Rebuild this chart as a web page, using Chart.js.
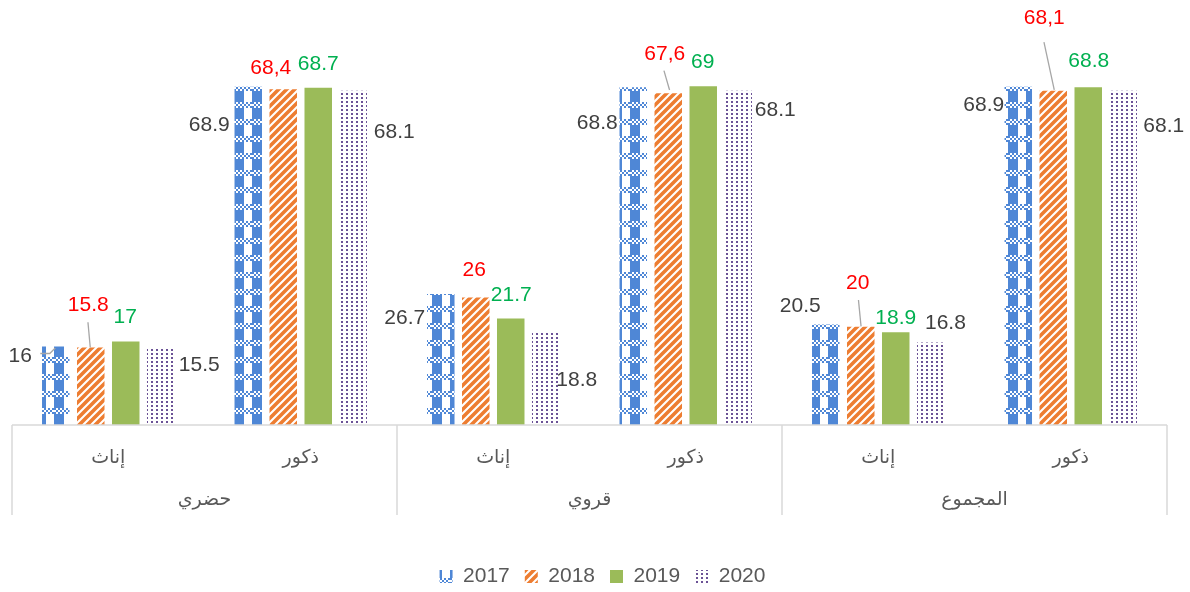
<!DOCTYPE html>
<html>
<head>
<meta charset="UTF-8">
<title>نسبة النشاط حسب الجنس ووسط الإقامة</title>
<style>
  html, body { margin: 0; padding: 0; background: #fff; }
  #wrap { position: relative; width: 1190px; height: 592px; }
</style>
</head>
<body>
<div id="wrap"><canvas id="chart"></canvas></div>

<script src="https://cdn.jsdelivr.net/npm/chart.js@4.4.1/dist/chart.umd.min.js"></script>

<script>
  // data
  var categories = ['إناث', 'ذكور', 'إناث', 'ذكور', 'إناث', 'ذكور'];
  var groups = ['حضري', 'قروي', 'المجموع'];
  var years = ['2017', '2018', '2019', '2020'];
  var values2017 = [16, 68.9, 26.7, 68.8, 20.5, 68.9];
  var values2018 = [15.8, 68.4, 26, 67.6, 20, 68.1];
  var values2019 = [17, 68.7, 21.7, 69, 18.9, 68.8];
  var values2020 = [15.5, 68.1, 18.8, 68.1, 16.8, 68.1];

  // hand placed data labels: offset from the top centre of each bar
  var labelOffsets = [
    [[-35.5, 9], [-39, 37.5], [-36, 23.5], [-36, 35], [-25.5, -18.7], [-34.5, 17.5]],
    [[-2.5, -43], [-12.5, -22], [-1.5, -28], [-3.5, -40], [-3, -45], [-9, -73.4]],
    [[-0.5, -25], [0, -25], [0.5, -24.5], [-0.5, -25.5], [0, -14.8], [0.5, -26.7]],
    [[38.5, 15.5], [41, 40], [31, 46.7], [37, 18.6], [14.7, -20], [40.5, 34]]
  ];
  var labelColors = ['#404040', '#ff0000', '#00b050', '#404040'];
  // leader lines [series, category, points...]
  var leaders = [
    [0, 0, [[-15.5, 7], [-6, 7], [-0.5, 1.5]]],
    [1, 0, [[-2.8, -25.2], [-0.5, 0]]],
    [1, 3, [[-4.3, -22.6], [1.3, -3.3]]],
    [1, 4, [[-2.3, -26.9], [0.3, -0.5]]],
    [1, 5, [[-9.3, -48.6], [1, -0.9]]]
  ];

  var makePattern = function(w, h, paint) {
    var c = document.createElement('canvas');
    c.width = w;
    c.height = h;
    var g = c.getContext('2d');
    g.fillStyle = '#ffffff';
    g.fillRect(0, 0, w, h);
    paint(g);
    return g.createPattern(c, 'repeat');
  };

  var blueCheck = makePattern(18, 17, function(g) {
    g.fillStyle = '#4f87d6';
    g.fillRect(0, 0, 10, 17);
    for (var y = 0; y < 6; y += 2) {
      for (var x = 0; x < 18; x += 2) {
        g.fillStyle = ((x + y) / 2) % 2 ? '#ffffff' : '#4f87d6';
        g.fillRect(x, y, 2, 2);
      }
    }
  });

  var orangeStripe = makePattern(8, 8, function(g) {
    g.strokeStyle = '#ed7d31';
    g.lineWidth = 3.6;
    g.beginPath();
    g.moveTo(-2, 10); g.lineTo(10, -2);
    g.moveTo(-6, 6); g.lineTo(6, -6);
    g.moveTo(2, 14); g.lineTo(14, 2);
    g.stroke();
  });

  var purpleDots = makePattern(5, 4, function(g) {
    g.fillStyle = '#6b5296';
    g.fillRect(1, 1, 2, 2);
  });

  var fills = [blueCheck, orangeStripe, '#9bbb59', purpleDots];
  var series = [values2017, values2018, values2019, values2020];

  var decor = {
    id: 'decor',
    afterLayout: function(chart) {
      // nudge the legend to where it sits in the picture
      chart.legend.left += 13;
      chart.legend.right += 13;
      chart.legend.top += 9;
      chart.legend.bottom += 9;
    },
    afterDatasetsDraw: function(chart) {
      var ctx = chart.ctx;
      ctx.save();
      ctx.strokeStyle = '#a6a6a6';
      ctx.lineWidth = 1.3;
      leaders.forEach(function(l) {
        var el = chart.getDatasetMeta(l[0]).data[l[1]];
        ctx.beginPath();
        l[2].forEach(function(p, k) {
          if (k == 0) ctx.moveTo(el.x + p[0], el.y + p[1]);
          else ctx.lineTo(el.x + p[0], el.y + p[1]);
        });
        ctx.stroke();
      });
      ctx.font = '21px "Liberation Sans", Arial, sans-serif';
      ctx.textAlign = 'center';
      ctx.textBaseline = 'middle';
      for (var i = 0; i < series.length; i++) {
        var meta = chart.getDatasetMeta(i);
        ctx.fillStyle = labelColors[i];
        for (var j = 0; j < meta.data.length; j++) {
          var el = meta.data[j];
          var txt = String(series[i][j]);
          if (i == 1 && categories[j] == 'ذكور') txt = txt.replace('.', ',');
          ctx.fillText(txt, el.x + labelOffsets[i][j][0], el.y + labelOffsets[i][j][1] + 1);
        }
      }
      ctx.restore();
    },
    afterDraw: function(chart) {
      var ctx = chart.ctx;
      var area = chart.chartArea;
      var xs = chart.scales.x;
      var half = (xs.getPixelForValue(1) - xs.getPixelForValue(0)) / 2;
      ctx.save();
      ctx.strokeStyle = '#d9d9d9';
      ctx.lineWidth = 1.5;
      ctx.beginPath();
      ctx.moveTo(area.left, area.bottom);
      ctx.lineTo(area.right, area.bottom);
      for (var g = 0; g <= groups.length; g++) {
        var x = g < groups.length ? xs.getPixelForValue(g * 2) - half : xs.getPixelForValue(g * 2 - 1) + half;
        ctx.moveTo(x, area.bottom);
        ctx.lineTo(x, area.bottom + 90);
      }
      ctx.stroke();
      ctx.fillStyle = '#595959';
      ctx.font = '19px "DejaVu Sans", sans-serif';
      ctx.textAlign = 'center';
      ctx.textBaseline = 'middle';
      for (var g = 0; g < groups.length; g++) {
        var cx = (xs.getPixelForValue(g * 2) + xs.getPixelForValue(g * 2 + 1)) / 2;
        ctx.fillText(groups[g], cx, area.bottom + 75);
      }
      ctx.restore();
    }
  };

  var ctx = document.getElementById('chart');

  var chart = new Chart(ctx, {
    type: 'bar',
    data: {
      labels: categories,
      datasets: years.map(function(y, i) {
        return {
          label: y,
          data: series[i],
          backgroundColor: fills[i],
          borderWidth: 0,
          categoryPercentage: 0.727,
          barPercentage: 0.786
        };
      })
    },
    options: {
      responsive: true,
      maintainAspectRatio: false,
      animation: false,
      layout: { padding: { left: 12, right: 23, top: 0, bottom: 4 } },
      scales: {
        x: {
          grid: { display: false, drawTicks: false },
          border: { display: false },
          ticks: {
            color: '#595959',
            padding: 22,
            font: { family: '"DejaVu Sans", sans-serif', size: 19 }
          },
          afterFit: function(axis) { axis.height = 117; }
        },
        y: {
          display: false,
          min: 0,
          max: 86.6
        }
      },
      plugins: {
        legend: {
          position: 'bottom',
          labels: {
            boxWidth: 13,
            boxHeight: 13,
            padding: 15,
            color: '#595959',
            font: { family: '"Liberation Sans", Arial, sans-serif', size: 21 }
          }
        },
        tooltip: { enabled: false }
      }
    },
    plugins: [decor]
  });
</script>
</body>
</html>
